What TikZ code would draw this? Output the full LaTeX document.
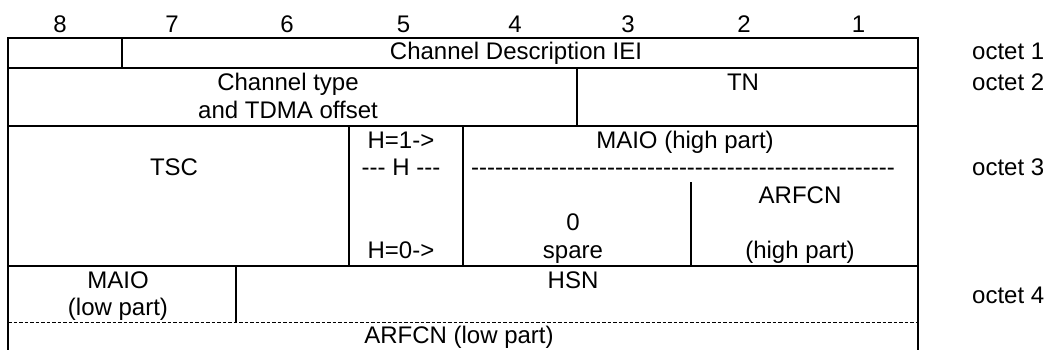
\documentclass[tikz,border=0pt]{standalone}
\usepackage{fontspec}
\setmainfont{Liberation Sans}[Ligatures=TeXOff]
\begin{document}
\begin{tikzpicture}[x=1pt,y=-1pt,
  txt/.style={anchor=base,inner sep=0pt,font=\fontsize{24}{27.5}\selectfont},
  lbl/.style={txt,anchor=base west},
  frame/.style={line width=2pt},
  dashline/.style={line width=1.1pt,dash pattern=on 3.5pt off 2pt}]
\useasboundingbox (0,0) rectangle (1046,350);
% frame lines
\draw[frame] (8,350) -- (8,38.5) -- (918,38.5) -- (918,350);
\draw[frame] (8,68.5) -- (918,68.5);
\draw[frame] (8,125.7) -- (918,125.7);
\draw[frame] (8,266) -- (918,266);
\draw[frame] (121.75,38.5) -- (121.75,68.5);
\draw[frame] (576.75,68.5) -- (576.75,125.7);
\draw[frame] (349.25,125.7) -- (349.25,266);
\draw[frame] (463,125.7) -- (463,266);
\draw[frame] (690.5,182) -- (690.5,266);
\draw[frame] (235.5,266) -- (235.5,322.7);
\draw[dashline] (8,322.7) -- (918,322.7);
% bit numbers
\node[txt] (b8) at (60,32.5) {8};
\node[txt] (b7) at (172,32.5) {7};
\node[txt] (b6) at (287,32.5) {6};
\node[txt] (b5) at (403.5,32.5) {5};
\node[txt] (b4) at (515,32.5) {4};
\node[txt] (b3) at (628,32.5) {3};
\node[txt] (b2) at (744,32.5) {2};
\node[txt] (b1) at (858.5,32.5) {1};
% octet labels
\node[lbl] (o1) at (972,60) {octet 1};
\node[lbl] (o2) at (972,90.5) {octet 2};
\node[lbl] (o3) at (972,175.5) {octet 3};
\node[lbl] (o4) at (972,303) {octet 4};
% cells
\node[txt] (iei) at (516,60) {Channel Description IEI};
\node[txt] (ct1) at (288,90.5) {Channel type};
\node[txt] (ct2) at (288,118) {and TDMA offset};
\node[txt] (tn) at (743,90.5) {TN};
\node[txt] (tsc) at (174,175.5) {TSC};
\node[txt] (h1) at (401,148) {H=1->};
\node[txt] (hh) at (401,175.5) {--- H ---};
\node[txt] (h0) at (401,258) {H=0->};
\node[txt] (maioh) at (685,148) {MAIO (high part)};
\node[txt] (hyph) at (683,175.5) {-----------------------------------------------------};
\node[txt] (arf1) at (800,203) {ARFCN};
\node[txt] (arf2) at (800,258) {(high part)};
\node[txt] (zero) at (573,230.5) {0};
\node[txt] (spare) at (573,258) {spare};
\node[txt] (maiol1) at (118,288.3) {MAIO};
\node[txt] (maiol2) at (118,315.8) {(low part)};
\node[txt] (hsn) at (573,288.3) {HSN};
\node[txt] (arfl) at (459,343.3) {ARFCN (low part)};
\end{tikzpicture}
\end{document}
